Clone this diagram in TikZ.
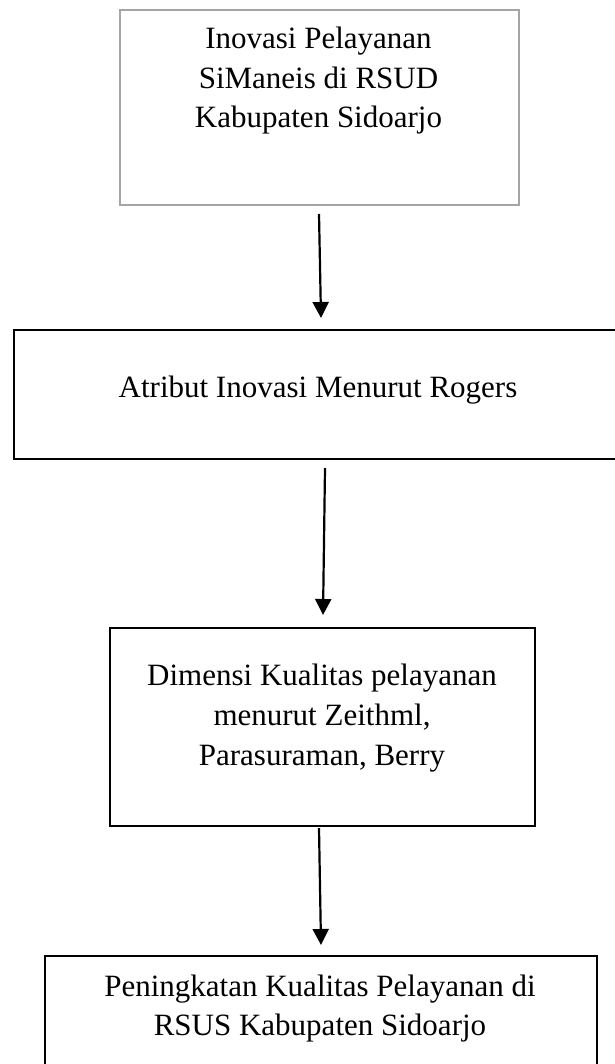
\documentclass[tikz,border=0pt]{standalone}
\usepackage{fontspec}
\setmainfont{Liberation Serif}
\usetikzlibrary{arrows.meta}
\definecolor{boxgray}{RGB}{165,165,165}
\begin{document}
\begin{tikzpicture}[x=1pt,y=-1pt,
  box/.style={draw=black, line width=2pt, rectangle, inner sep=0pt, anchor=north west},
  txt/.style={anchor=base, inner sep=0pt, font=\fontsize{31}{39}\selectfont},
  arr/.style={draw=black, line width=2.2pt, -{Triangle[width=16pt,length=16pt]}}]
\useasboundingbox[fill=white] (0,0) rectangle (614,1064);
% boxes
\node[box, draw=boxgray, minimum width=399pt, minimum height=195pt] (b1) at (119,9) {};
\node[box, minimum width=611pt, minimum height=129pt] (b2) at (13,329) {};
\node[box, minimum width=425pt, minimum height=198pt] (b3) at (109,627) {};
\node[box, minimum width=552pt, minimum height=125pt] (b4) at (44,955) {};
% texts
\node[txt] (t1a) at (318.5,49) {Inovasi Pelayanan};
\node[txt] (t1b) at (318.5,89) {SiManeis di RSUD};
\node[txt] (t1c) at (318.5,128) {Kabupaten Sidoarjo};
\node[txt] (t2) at (318,397) {Atribut Inovasi Menurut Rogers};
\node[txt] (t3a) at (322,685) {Dimensi Kualitas pelayanan};
\node[txt] (t3b) at (322,725) {menurut Zeithml,};
\node[txt] (t3c) at (322,765) {Parasuraman, Berry};
\node[txt] (t4a) at (320,996) {Peningkatan Kualitas Pelayanan di};
\node[txt] (t4b) at (320,1035) {RSUS Kabupaten Sidoarjo};
% connectors
\draw[arr] ([shift={(-0.5,8)}]b1.south) -- ([shift={(1.5,-11)}]b2.north);
\draw[arr] ([shift={(5.5,8)}]b2.south) -- ([shift={(0.5,-12)}]b3.north);
\draw[arr] ([shift={(-3.5,1)}]b3.south) -- ([shift={(0,-10)}]b4.north);
\end{tikzpicture}
\end{document}
